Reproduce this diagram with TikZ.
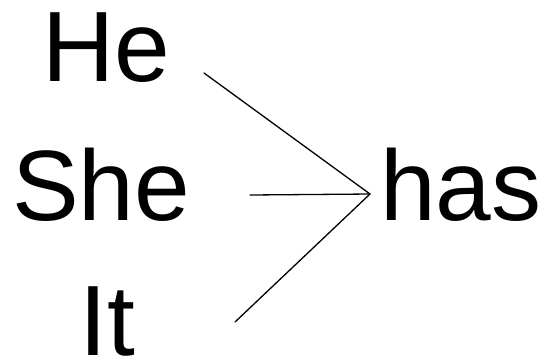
\documentclass[tikz,border=0pt]{standalone}
\usepackage{fontspec}
\setmainfont{Liberation Sans}
\usepackage{tikz}
\usetikzlibrary{positioning}

\begin{document}
\begin{tikzpicture}[
  x=1pt, y=-1pt,
  word/.style={inner sep=0pt, anchor=base west, font=\fontsize{100}{100}\selectfont},
  link/.style={line width=1.3pt, line cap=round}
]
  \useasboundingbox[fill=white] (0,0) rectangle (540,360);
  \node[word] (he) at (42,81) {He};
  \node[word] (she) at (12,220) {She};
  \node[word] (it) at (79,355) {It};
  \node[word] (has) at (380,220) {has};
  % free ends of the three links
  \coordinate (hestart) at (204,73);
  \coordinate (shestart) at (250,195);
  \coordinate (itstart) at (235,322);
  \coordinate (join) at (370,194);
  \draw[link] (hestart) -- (join);
  \draw[link] (shestart) -- (join);
  \draw[link] (itstart) -- (join);
\end{tikzpicture}
\end{document}
